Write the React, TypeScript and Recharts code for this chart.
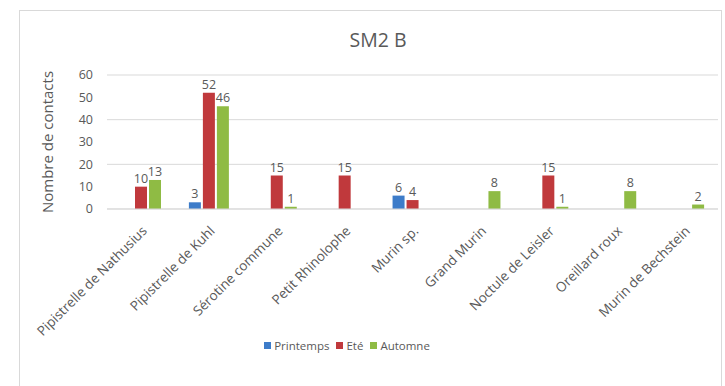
import React from 'react';
import { BarChart, Bar, XAxis, YAxis, CartesianGrid, Legend, LabelList } from 'recharts';

const categories = [
  'Pipistrelle de Nathusius',
  'Pipistrelle de Kuhl',
  'Sérotine commune',
  'Petit Rhinolophe',
  'Murin sp.',
  'Grand Murin',
  'Noctule de Leisler',
  'Oreillard roux',
  'Murin de Bechstein',
];
const printemps = [null, 3, null, null, 6, null, null, null, null];
const ete = [10, 52, 15, 15, 4, null, 15, null, null];
const automne = [13, 46, 1, null, null, 8, 1, 8, 2];
const yTicks = [0, 10, 20, 30, 40, 50, 60];
const seriesNames = ['Printemps', 'Eté', 'Automne'];
const seriesColors = ['#3d7cc9', '#c0393c', '#8fbb44'];

const data = categories.map((name, i) => ({
  name,
  Printemps: printemps[i],
  'Eté': ete[i],
  Automne: automne[i],
}));

const FONT = "'Open Sans', 'Liberation Sans', sans-serif";
const TXT = '#595959';

const LegendContent = () => (
  <div style={{ display: 'flex', justifyContent: 'center', alignItems: 'center', transform: 'translateX(-42px)', fontSize: 11.5, fontFamily: FONT, color: TXT }}>
    {seriesNames.map((n, i) => (
      <div key={n} style={{ display: 'flex', alignItems: 'center', marginRight: 7 }}>
        <span style={{ display: 'inline-block', width: 7, height: 7, background: seriesColors[i], marginRight: 3 }} />
        <span>{n}</span>
      </div>
    ))}
  </div>
);

export default function App() {
  return (
    <div style={{ position: 'absolute', left: 0, top: 0, width: 725, height: 386, background: '#fff', fontFamily: FONT }}>
      <div style={{ position: 'absolute', left: 19, top: 10, width: 703, height: 380, border: '1px solid #d9d9d9', boxSizing: 'border-box' }} />
      <div style={{ position: 'absolute', left: 0, top: 26, width: 756, textAlign: 'center', fontSize: 19.5, color: TXT, fontFamily: FONT }}>SM2 B</div>
      <BarChart
        width={725}
        height={386}
        data={data}
        margin={{ top: 75, right: 7, left: 67, bottom: 28 }}
        barGap={2}
        barCategoryGap="20%"
        style={{ position: 'absolute', left: 0, top: 0 }}
      >
        <CartesianGrid horizontal vertical={false} stroke="#d9d9d9" />
        <XAxis
          dataKey="name"
          interval={0}
          height={129}
          axisLine={{ stroke: '#d9d9d9' }}
          tickLine={false}
          angle={-45}
          textAnchor="end"
          tick={{ fill: TXT, fontSize: 13.5, fontFamily: FONT }}
          tickMargin={10}
        />
        <YAxis
          width={40}
          domain={[0, 60]}
          ticks={yTicks}
          axisLine={false}
          tickLine={false}
          tickMargin={8}
          tick={{ fill: TXT, fontSize: 12.5, fontFamily: FONT }}
          label={{ value: 'Nombre de contacts', angle: -90, position: 'insideLeft', offset: -19, style: { textAnchor: 'middle', fill: TXT, fontSize: 15, fontFamily: FONT } }}
        />
        <Legend verticalAlign="bottom" align="center" height={20} content={<LegendContent />} />
        {seriesNames.map((n, i) => (
          <Bar key={n} dataKey={n} fill={seriesColors[i]} barSize={12} isAnimationActive={false}>
            <LabelList dataKey={n} position="top" offset={4} fill={TXT} fontSize={12.5} fontFamily={FONT} />
          </Bar>
        ))}
      </BarChart>
    </div>
  );
}
